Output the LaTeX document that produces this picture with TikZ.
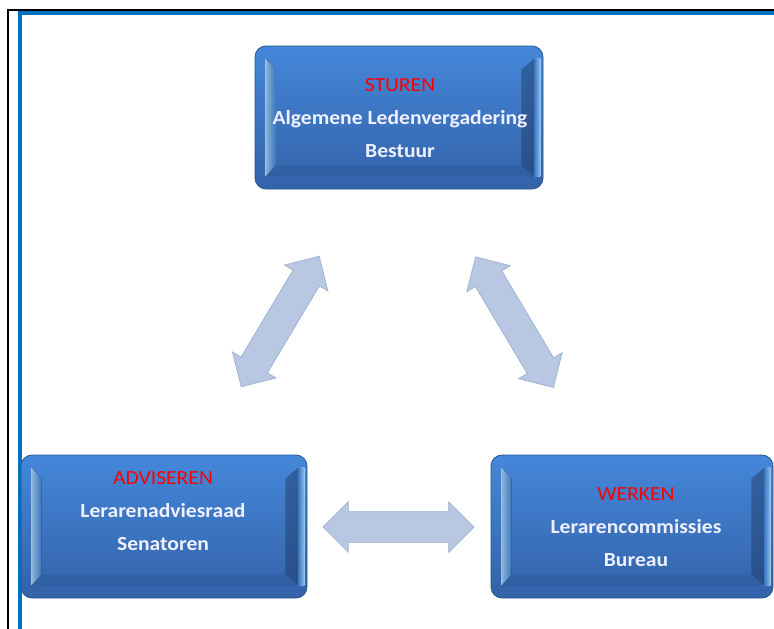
\documentclass[tikz,border=0pt]{standalone}
\usepackage{fontspec}
\setmainfont{Carlito}[FakeStretch=1.08]
\usetikzlibrary{shapes.arrows}
\definecolor{boxtop}{HTML}{4587DA}
\definecolor{boxbot}{HTML}{3362A8}
\definecolor{boxedge}{HTML}{2A5590}
\definecolor{hilite}{HTML}{A3D3FA}
\definecolor{arrowfill}{HTML}{B8C8E2}
\definecolor{arrowedge}{HTML}{9DB0D2}
\definecolor{frameblue}{HTML}{0070C0}
\definecolor{labelred}{HTML}{FF0000}
\newcommand\bevelbox[1]{%
  % left light bevel
  \fill[left color=hilite, right color=boxtop, opacity=0.85]
    ([shift={(11,13)}]#1.north west) -- ([shift={(21,24)}]#1.north west)
    -- ([shift={(21,-24)}]#1.south west) -- ([shift={(11,-13)}]#1.south west) -- cycle;
  % right inner shade
  \fill[left color=boxbot, right color=boxbot!90!black, opacity=0.25]
    ([shift={(-22,24)}]#1.north east) -- ([shift={(-9,13)}]#1.north east)
    -- ([shift={(-9,-13)}]#1.south east) -- ([shift={(-22,-24)}]#1.south east) -- cycle;
  % right highlight near outer edge
  \fill[left color=boxtop, right color=hilite, opacity=0.9]
    ([shift={(-9,13)}]#1.north east) rectangle ([shift={(-3,-13)}]#1.south east);
  % bottom darker bevel
  \fill[boxbot!80!black, opacity=0.25]
    ([shift={(21,-24)}]#1.south west) -- ([shift={(-22,-24)}]#1.south east)
    -- ([shift={(-9,-13)}]#1.south east) -- ([shift={(11,-13)}]#1.south west) -- cycle;
}
\begin{document}
\begin{tikzpicture}[x=1pt,y=-1pt,
  boxshape/.style={rectangle, rounded corners=11pt, inner sep=0pt,
    minimum width=#1, minimum height=143pt, top color=boxtop, bottom color=boxbot,
    draw=boxedge, line width=0.8pt},
  boxtext/.style={align=center, text=white!94!blue, inner sep=0pt,
    font=\bfseries\fontsize{20}{33}\selectfont},
  blockarrow/.style={double arrow, double arrow head extend=10pt, inner xsep=0pt,
    inner ysep=15pt, minimum width=0pt, fill=arrowfill, draw=arrowedge,
    line width=0.7pt, sloped},
]
\useasboundingbox (0,0) rectangle (774,629);
\fill[white] (0,0) rectangle (774,629);
% frame
\draw[black, line width=2pt] (8,629) -- (8,10) -- (774,10);
\draw[frameblue, line width=3.5pt] (19.75,629) -- (19.75,12.75) -- (774,12.75);

% boxes
\node[boxshape=288pt] (top) at (399,117.5) {};
\bevelbox{top}
\node[boxshape=286pt] (left) at (164,526.5) {};
\bevelbox{left}
\node[boxshape=282pt] (right) at (632,526.5) {};
\bevelbox{right}

\node[boxtext] (toptext) at (400,118)
  {{\mdseries\color{labelred}STUREN}\\Algemene Ledenvergadering\\Bestuur};
\node[boxtext] (lefttext) at (163,511)
  {{\mdseries\color{labelred}ADVISEREN}\\Lerarenadviesraad\\Senatoren};
\node[boxtext] (righttext) at (636,527)
  {{\mdseries\color{labelred}WERKEN}\\Lerarencommissies\\Bureau};

% arrow end points
\coordinate (a1s) at (241.2,386.7);
\coordinate (a1e) at (319.2,256.3);
\coordinate (a2s) at (475.6,256.9);
\coordinate (a2e) at (553.4,387.5);
\coordinate (a3s) at (323,527);
\coordinate (a3e) at (474,527);

\path (a1s) -- node[blockarrow, minimum height=152pt] (arrowL) {} (a1e);
\path (a2s) -- node[blockarrow, minimum height=152pt] (arrowR) {} (a2e);
\path (a3s) -- node[blockarrow, minimum height=151pt] (arrowH) {} (a3e);
\end{tikzpicture}
\end{document}
